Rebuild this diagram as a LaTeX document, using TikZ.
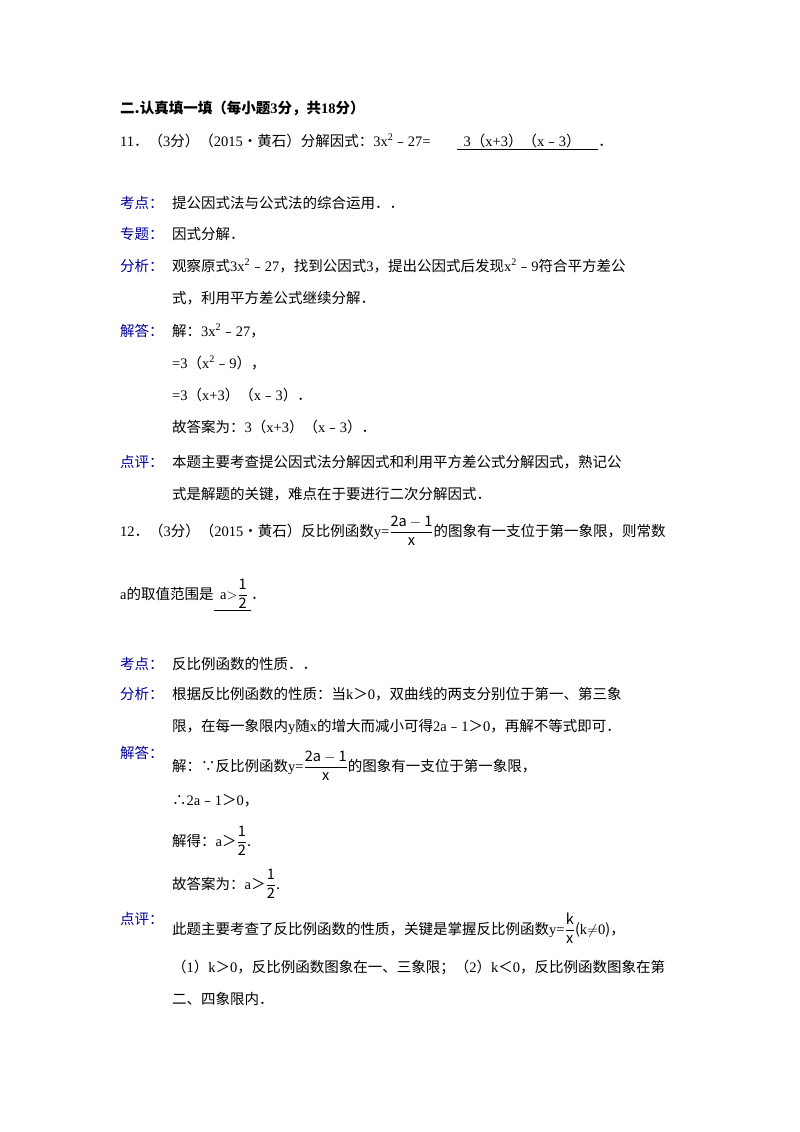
\documentclass[tikz,border=0pt]{standalone}
\usepackage{fontspec}
\setmainfont{Noto Sans CJK SC}
\newfontfamily\lat{Liberation Serif}
\begin{document}
\begin{tikzpicture}[x=1pt,y=-1pt,
 t/.style={anchor=base west,inner sep=0pt,font=\fontsize{14.5}{17}\selectfont},
 lb/.style={t,text=blue!60!black}]
\useasboundingbox[fill=white] (0,0) rectangle (800,1132);
\newcommand\fr[2]{$\displaystyle\frac{\mathrm{#1}}{\mathrm{#2}}$}
\newcommand\mi{﹣}
\node[t,font=\fontsize{14.5}{17}\bfseries\selectfont] (h) at (120,113) {二.认真填一填（每小题{\lat 3}分，共{\lat 18}分）};
\node[t] (q11) at (120,146) {{\lat 11}．（{\lat 3}分）（{\lat 2015}•黄石）分解因式：{\lat 3x\textsuperscript{2}}\mi{\lat 27=}};
\node[t] (a11) at (457,146) {\underline{\ \ {\lat 3}（{\lat x+3}）（{\lat x}\mi{\lat 3}）\quad\ }．};
\node[lb] (k1) at (120,208) {考点：}; \node[t] at (172,208) {提公因式法与公式法的综合运用．．};
\node[lb] (z1) at (120,239) {专题：}; \node[t] at (172,239) {因式分解．};
\node[lb] (f1) at (120,271) {分析：}; \node[t] at (172,271) {观察原式{\lat 3x\textsuperscript{2}}\mi{\lat 27}，找到公因式{\lat 3}，提出公因式后发现{\lat x\textsuperscript{2}}\mi{\lat 9}符合平方差公};
\node[t] at (172,303) {式，利用平方差公式继续分解．};
\node[lb] (j1) at (120,336) {解答：}; \node[t] at (172,336) {解：{\lat 3x\textsuperscript{2}}\mi{\lat 27}，};
\node[t] at (172,368) {{\lat =3}（{\lat x\textsuperscript{2}}\mi{\lat 9}），};
\node[t] at (172,400) {{\lat =3}（{\lat x+3}）（{\lat x}\mi{\lat 3}）．};
\node[t] at (172,432) {故答案为：{\lat 3}（{\lat x+3}）（{\lat x}\mi{\lat 3}）．};
\node[lb] (d1) at (120,467) {点评：}; \node[t] at (172,467) {本题主要考查提公因式法分解因式和利用平方差公式分解因式，熟记公};
\node[t] at (172,499) {式是解题的关键，难点在于要进行二次分解因式．};
\node[t] (q12) at (120,536) {{\lat 12}．（{\lat 3}分）（{\lat 2015}•黄石）反比例函数{\lat y=}\fr{2a-1}{x}的图象有一支位于第一象限，则常数};
\node[t] (q12b) at (120,599) {{\lat a}的取值范围是\underline{\ \ {\lat a}$>$\fr{1}{2}\ }．};
\node[lb] (k2) at (120,669) {考点：}; \node[t] at (172,669) {反比例函数的性质．．};
\node[lb] (f2) at (120,699) {分析：}; \node[t] at (172,699) {根据反比例函数的性质：当{\lat k}＞{\lat 0}，双曲线的两支分别位于第一、第三象};
\node[t] at (172,731) {限，在每一象限内{\lat y}随{\lat x}的增大而减小可得{\lat 2a}\mi{\lat 1}＞{\lat 0}，再解不等式即可．};
\node[lb] (j2) at (120,758) {解答：}; \node[t] at (172,771) {解：∵反比例函数{\lat y=}\fr{2a-1}{x}的图象有一支位于第一象限，};
\node[t] at (172,805) {∴{\lat 2a}\mi{\lat 1}＞{\lat 0}，};
\node[t] at (172,846) {解得：{\lat a}＞\fr{1}{2}.};
\node[t] at (172,889) {故答案为：{\lat a}＞\fr{1}{2}.};
\node[lb] (d2) at (120,924) {点评：}; \node[t] at (172,934) {此题主要考查了反比例函数的性质，关键是掌握反比例函数{\lat y=}\fr{k}{x}({\lat k}$\neq${\lat 0})，};
\node[t] at (172,972) {（{\lat 1}）{\lat k}＞{\lat 0}，反比例函数图象在一、三象限；（{\lat 2}）{\lat k}＜{\lat 0}，反比例函数图象在第};
\node[t] at (172,1004) {二、四象限内．};
\end{tikzpicture}
\end{document}
